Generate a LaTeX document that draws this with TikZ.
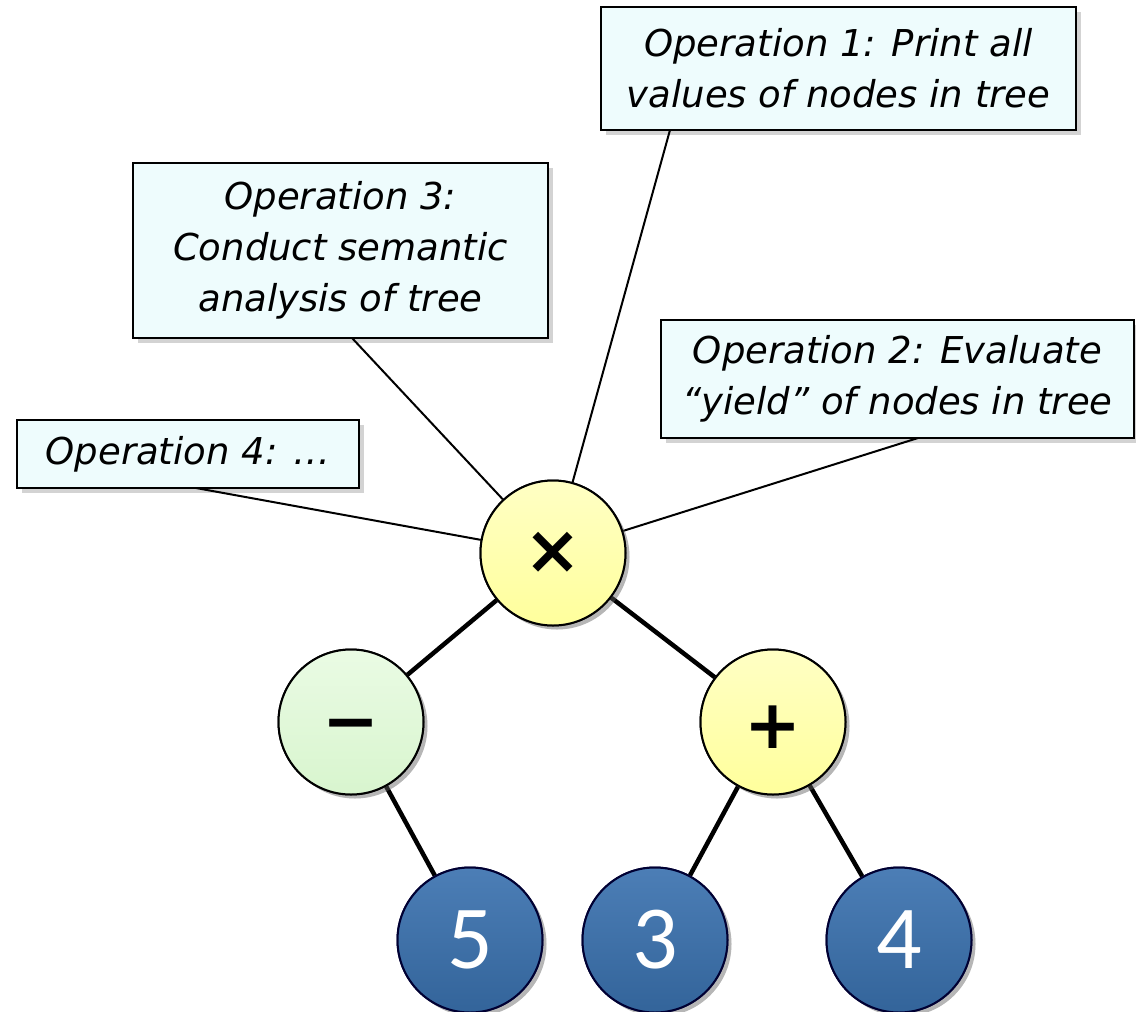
\documentclass[tikz,border=0pt]{standalone}
\usepackage{fontspec}
\setmainfont{DejaVu Sans}
\newfontfamily\symfont{DejaVu Sans}
\newfontfamily\digfont{Carlito}
\usetikzlibrary{shadows}
\definecolor{boxfill}{HTML}{EEFCFD}
\definecolor{yelA}{HTML}{FFFFC4}
\definecolor{yelB}{HTML}{FFFF9C}
\definecolor{grnA}{HTML}{EAFBE4}
\definecolor{grnB}{HTML}{D8F5CE}
\definecolor{bluA}{HTML}{4C7EB6}
\definecolor{bluB}{HTML}{33649A}
\tikzset{
  opbox/.style={draw=black, line width=1.6pt, fill=boxfill, align=center, inner sep=0pt,
    font=\fontsize{37}{51}\selectfont\itshape,
    drop shadow={shadow xshift=5pt, shadow yshift=-5pt, opacity=0.35}},
  ball/.style={circle, draw=black, line width=2pt, minimum size=145pt, inner sep=0pt,
    drop shadow={shadow xshift=4pt, shadow yshift=-4pt, opacity=0.35}},
  symfnt/.style={font=\symfont\bfseries\fontsize{68}{68}\selectfont},
  yball/.style={ball, top color=yelA, bottom color=yelB, symfnt},
  gball/.style={ball, top color=grnA, bottom color=grnB, symfnt},
  bball/.style={ball, draw=black!80!blue, top color=bluA, bottom color=bluB, text=white, font=\digfont\fontsize{90}{90}\selectfont},
  callout/.style={draw=black, line width=2pt},
  treeedge/.style={draw=black, line width=4.5pt}
}
\begin{document}
\begin{tikzpicture}[x=1pt, y=-1pt]
\useasboundingbox (0,0) rectangle (1136,1012);
% balls (named, for connectors)
\node[yball] (times) at (553,553) {};
\node[gball] (minus) at (351,722) {};
\node[yball] (plus) at (773,722) {};
\node[bball] (five) at (470,940) {};
\node[bball] (three) at (655,940) {};
\node[bball] (four) at (899,940) {};
% boxes
\node[opbox, minimum width=475pt, minimum height=123pt] (op1) at (838.5,68.5) {Operation 1: Print all\\values of nodes in tree};
\node[opbox, minimum width=415pt, minimum height=175pt] (op3) at (340.5,250.5) {Operation 3:\\Conduct semantic\\analysis of tree};
\node[opbox, minimum width=473pt, minimum height=118pt] (op2) at (897.5,379) {Operation 2: Evaluate\\“yield” of nodes in tree};
\node[opbox, minimum width=342pt, minimum height=68pt] (op4) at (188,454) {Operation 4: …};
% callout anchors
\coordinate (c1) at (670,130);
\coordinate (c3) at (352,338);
\coordinate (c2) at (918,438);
\coordinate (c4) at (196,488);
\draw[callout] (c1) -- (times);
\draw[callout] (c3) -- (times);
\draw[callout] (c2) -- (times);
\draw[callout] (c4) -- (times);
\draw[treeedge] (times) -- (minus);
\draw[treeedge] (times) -- (plus);
\draw[treeedge] (minus) -- (five);
\draw[treeedge] (plus) -- (three);
\draw[treeedge] (plus) -- (four);
% balls drawn again on top of the connectors, with their texts
\node[yball] at (553,553) {×};
\node[gball, label={[symfnt, yshift=-10pt]center:−}] at (351,722) {};
\node[yball, label={[symfnt, yshift=-5pt]center:+}] at (773,722) {};
\node[bball] at (470,940) {5};
\node[bball] at (655,940) {3};
\node[bball] at (899,940) {4};
\end{tikzpicture}
\end{document}
